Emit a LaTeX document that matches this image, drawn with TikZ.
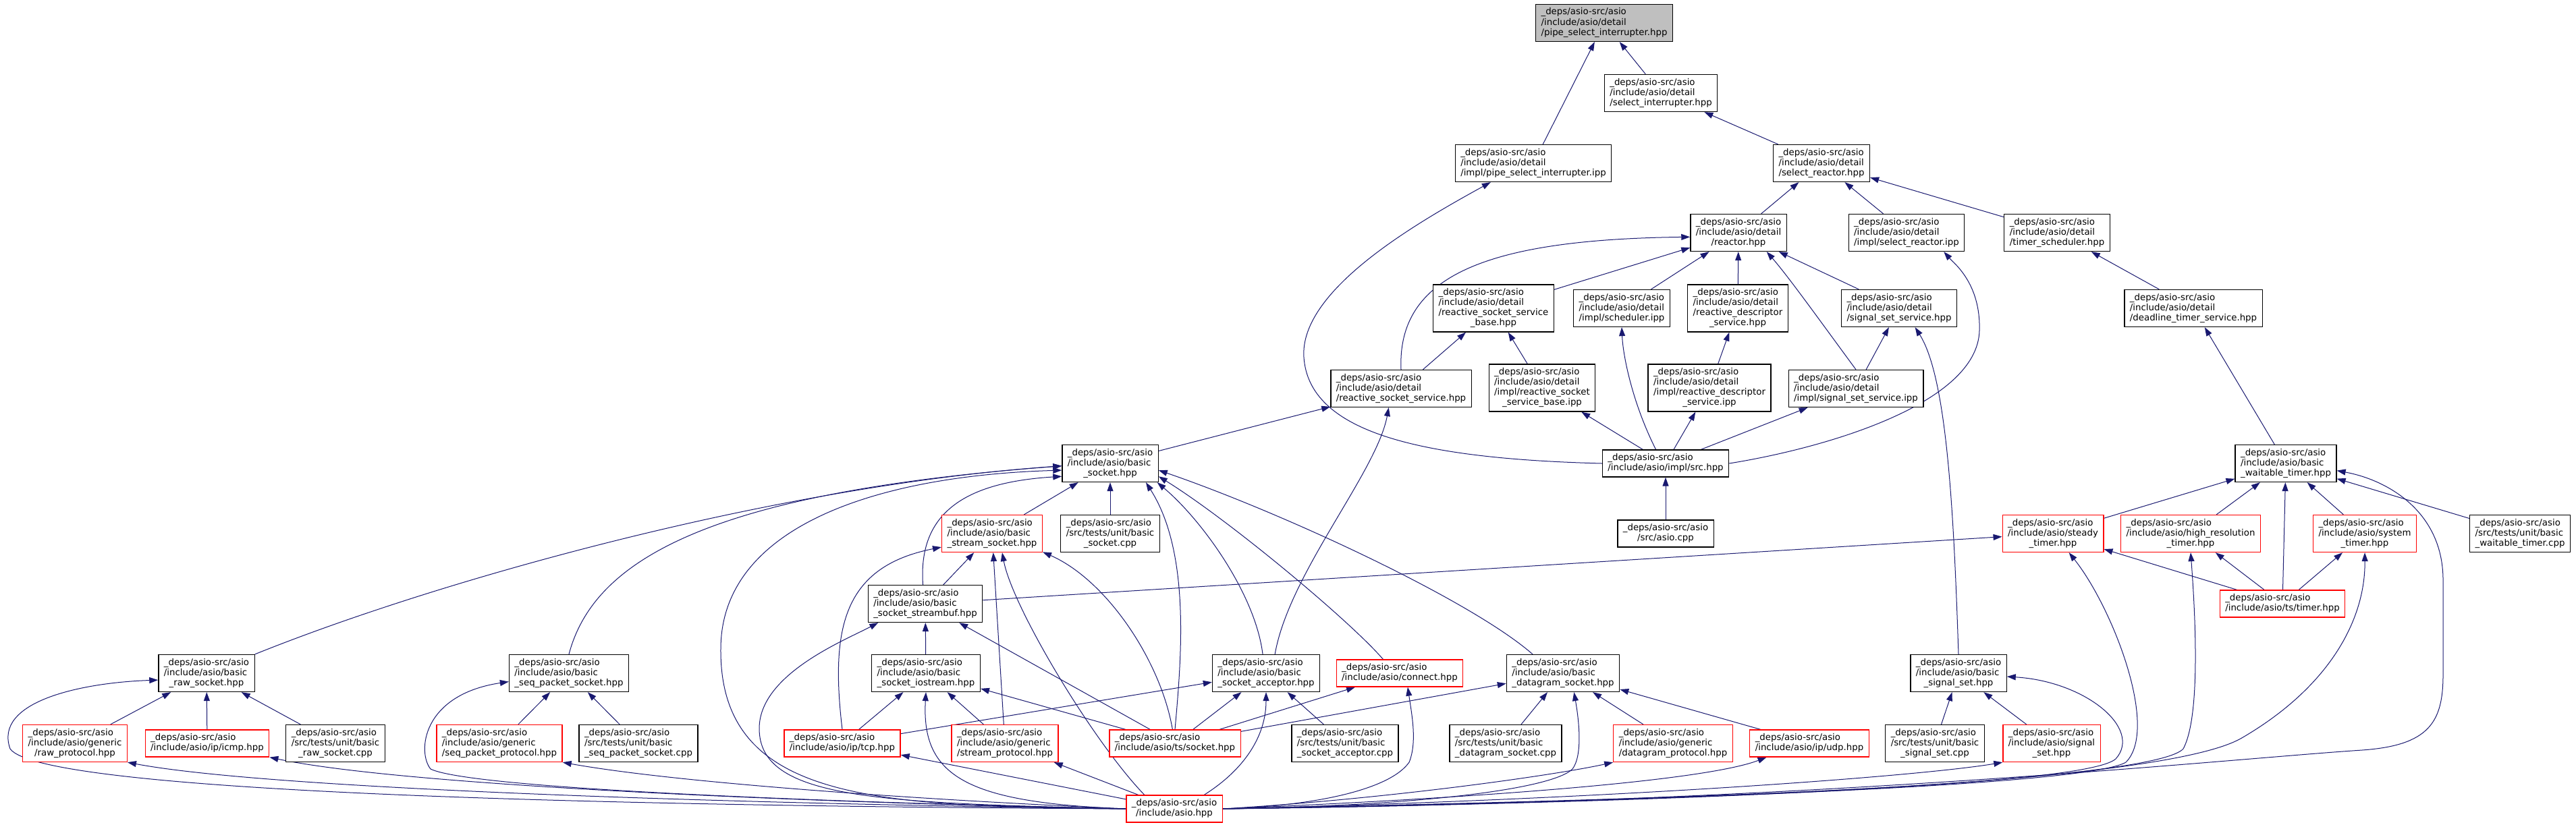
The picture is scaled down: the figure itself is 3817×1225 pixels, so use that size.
\documentclass[tikz,border=0pt]{standalone}
\usepackage{fontspec}
\setmainfont{DejaVu Sans}
\usepackage{xcolor}
\usepackage{tikz}
\usetikzlibrary{arrows.meta}

\definecolor{edgeblue}{HTML}{191970}
\definecolor{rootgray}{HTML}{BFBFBF}
\pgfdeclarelayer{bg}
\pgfsetlayers{bg,main}

% all lines left aligned, the last one centred
\newcommand{\flabel}[2]{\begin{tabular}{@{}l@{}}#1\\\multicolumn{1}{@{}c@{}}{#2}\end{tabular}}
\newcommand{\asiodir}{\_deps/asio-src/asio}

\begin{document}
\begin{tikzpicture}[x=0.2mm, y=-0.2mm,
    every node/.style={font=\fontsize{7.59}{8.54}\selectfont},
    filebox/.style={draw=black, line width=0.25mm, fill=white, inner xsep=1.6mm, inner ysep=1mm},
    truncbox/.style={filebox, draw=red},
    rootbox/.style={filebox, fill=rootgray},
    incl/.style={draw=edgeblue, line width=0.2mm, -{Triangle[length=2.6mm, width=1.8mm]}}]
  \useasboundingbox (0,0) rectangle (3817,1225);

  % ---------- detail headers ----------
  \node[rootbox] (pipe) at (2377,34) {\flabel{\asiodir\\/include/asio/detail}{/pipe\_select\_interrupter.hpp}};
  \node[filebox] (selint) at (2461,138) {\flabel{\asiodir\\/include/asio/detail}{/select\_interrupter.hpp}};
  \node[filebox] (pipeipp) at (2272,242) {\flabel{\asiodir\\/include/asio/detail}{/impl/pipe\_select\_interrupter.ipp}};
  \node[filebox] (selreact) at (2699,242) {\flabel{\asiodir\\/include/asio/detail}{/select\_reactor.hpp}};
  \node[filebox] (reactor) at (2576,345) {\flabel{\asiodir\\/include/asio/detail}{/reactor.hpp}};
  \node[filebox] (selreactipp) at (2825,345) {\flabel{\asiodir\\/include/asio/detail}{/impl/select\_reactor.ipp}};
  \node[filebox] (timsched) at (3048,345) {\flabel{\asiodir\\/include/asio/detail}{/timer\_scheduler.hpp}};
  \node[filebox] (rssb) at (2213,457) {\flabel{\asiodir\\/include/asio/detail\\/reactive\_socket\_service}{\_base.hpp}};
  \node[filebox] (schedipp) at (2403,457) {\flabel{\asiodir\\/include/asio/detail}{/impl/scheduler.ipp}};
  \node[filebox] (rds) at (2575,457) {\flabel{\asiodir\\/include/asio/detail\\/reactive\_descriptor}{\_service.hpp}};
  \node[filebox] (sss) at (2814,457) {\flabel{\asiodir\\/include/asio/detail}{/signal\_set\_service.hpp}};
  \node[filebox] (dts) at (3250,457) {\flabel{\asiodir\\/include/asio/detail}{/deadline\_timer\_service.hpp}};
  \node[filebox] (rss) at (2076,576) {\flabel{\asiodir\\/include/asio/detail}{/reactive\_socket\_service.hpp}};
  \node[filebox] (rssbipp) at (2285,575) {\flabel{\asiodir\\/include/asio/detail\\/impl/reactive\_socket}{\_service\_base.ipp}};
  \node[filebox] (rdsipp) at (2533,575) {\flabel{\asiodir\\/include/asio/detail\\/impl/reactive\_descriptor}{\_service.ipp}};
  \node[filebox] (sssipp) at (2750,576) {\flabel{\asiodir\\/include/asio/detail}{/impl/signal\_set\_service.ipp}};

  % ---------- basic sockets, timers ----------
  \node[filebox] (bsock) at (1645,687) {\flabel{\asiodir\\/include/asio/basic}{\_socket.hpp}};
  \node[filebox] (src) at (2468,687) {\flabel{\asiodir}{/include/asio/impl/src.hpp}};
  \node[filebox] (bwt) at (3387,687) {\flabel{\asiodir\\/include/asio/basic}{\_waitable\_timer.hpp}};
  \node[truncbox] (bstream) at (1470,791) {\flabel{\asiodir\\/include/asio/basic}{\_stream\_socket.hpp}};
  \node[filebox] (bsockcpp) at (1645,791) {\flabel{\asiodir\\/src/tests/unit/basic}{\_socket.cpp}};
  \node[filebox] (asiocpp) at (2468,791) {\flabel{\asiodir}{/src/asio.cpp}};
  \node[truncbox] (steady) at (3042,791) {\flabel{\asiodir\\/include/asio/steady}{\_timer.hpp}};
  \node[truncbox] (hires) at (3246,791) {\flabel{\asiodir\\/include/asio/high\_resolution}{\_timer.hpp}};
  \node[truncbox] (systim) at (3504,791) {\flabel{\asiodir\\/include/asio/system}{\_timer.hpp}};
  \node[filebox] (bwtcpp) at (3734,791) {\flabel{\asiodir\\/src/tests/unit/basic}{\_waitable\_timer.cpp}};
  \node[filebox] (sbuf) at (1371,895) {\flabel{\asiodir\\/include/asio/basic}{\_socket\_streambuf.hpp}};
  \node[truncbox] (tstimer) at (3382,895) {\flabel{\asiodir}{/include/asio/ts/timer.hpp}};
  \node[filebox] (rawsock) at (306,998) {\flabel{\asiodir\\/include/asio/basic}{\_raw\_socket.hpp}};
  \node[filebox] (seqsock) at (843,998) {\flabel{\asiodir\\/include/asio/basic}{\_seq\_packet\_socket.hpp}};
  \node[filebox] (iostr) at (1372,998) {\flabel{\asiodir\\/include/asio/basic}{\_socket\_iostream.hpp}};
  \node[filebox] (accept) at (1876,998) {\flabel{\asiodir\\/include/asio/basic}{\_socket\_acceptor.hpp}};
  \node[truncbox] (connect) at (2074,998) {\flabel{\asiodir}{/include/asio/connect.hpp}};
  \node[filebox] (dgram) at (2316,998) {\flabel{\asiodir\\/include/asio/basic}{\_datagram\_socket.hpp}};
  \node[filebox] (bss) at (2902,998) {\flabel{\asiodir\\/include/asio/basic}{\_signal\_set.hpp}};

  % ---------- protocols, tests ----------
  \node[truncbox] (rawproto) at (111,1102) {\flabel{\asiodir\\/include/asio/generic}{/raw\_protocol.hpp}};
  \node[truncbox] (icmp) at (307,1102) {\flabel{\asiodir}{/include/asio/ip/icmp.hpp}};
  \node[filebox] (rawcpp) at (497,1102) {\flabel{\asiodir\\/src/tests/unit/basic}{\_raw\_socket.cpp}};
  \node[truncbox] (seqproto) at (740,1102) {\flabel{\asiodir\\/include/asio/generic}{/seq\_packet\_protocol.hpp}};
  \node[filebox] (seqcpp) at (946,1102) {\flabel{\asiodir\\/src/tests/unit/basic}{\_seq\_packet\_socket.cpp}};
  \node[truncbox] (tcp) at (1248,1102) {\flabel{\asiodir}{/include/asio/ip/tcp.hpp}};
  \node[truncbox] (streamproto) at (1489,1102) {\flabel{\asiodir\\/include/asio/generic}{/stream\_protocol.hpp}};
  \node[truncbox] (tssock) at (1741,1102) {\flabel{\asiodir}{/include/asio/ts/socket.hpp}};
  \node[filebox] (acccpp) at (1993,1102) {\flabel{\asiodir\\/src/tests/unit/basic}{\_socket\_acceptor.cpp}};
  \node[filebox] (dgramcpp) at (2231,1102) {\flabel{\asiodir\\/src/tests/unit/basic}{\_datagram\_socket.cpp}};
  \node[truncbox] (dgramproto) at (2479,1102) {\flabel{\asiodir\\/include/asio/generic}{/datagram\_protocol.hpp}};
  \node[truncbox] (udp) at (2681,1102) {\flabel{\asiodir}{/include/asio/ip/udp.hpp}};
  \node[filebox] (bsscpp) at (2867,1102) {\flabel{\asiodir\\/src/tests/unit/basic}{\_signal\_set.cpp}};
  \node[truncbox] (sigset) at (3040,1102) {\flabel{\asiodir\\/include/asio/signal}{\_set.hpp}};
  \node[truncbox] (asio) at (1740,1199) {\flabel{\asiodir}{/include/asio.hpp}};

  \begin{pgfonlayer}{bg}
    % ---------- upper part ----------
    \draw[incl] (selint) -- (pipe);
    \draw[incl] (pipeipp) -- (pipe);
    \draw[incl] (selreact) -- (selint);
    \draw[incl] (reactor) -- (selreact);
    \draw[incl] (selreactipp) -- (selreact);
    \draw[incl] (timsched) -- (selreact);
    \draw[incl] (rssb) -- (reactor);
    \draw[incl] (schedipp) -- (reactor);
    \draw[incl] (rds) -- (reactor);
    \draw[incl] (sss) -- (reactor);
    \draw[incl] (rss.north) .. controls (2070,410) and (2200,355) .. (reactor.185);
    \draw[incl] (sssipp.north) .. controls (2700,480) and (2650,410) .. (reactor.326);
    \draw[incl] (dts) -- (timsched);
    \draw[incl] (rss) -- (rssb);
    \draw[incl] (rssbipp) -- (rssb);
    \draw[incl] (rdsipp) -- (rds);
    \draw[incl] (sssipp) -- (sss);
    \draw[incl] (bss.north) .. controls (2895,760) and (2885,560) .. (sss.310);
    \draw[incl] (bwt) -- (dts);
    % ---------- impl/src.hpp ----------
    \draw[incl] (src.west) .. controls (2100,680) and (1940,640) .. (1932,530)
      .. controls (1925,430) and (2100,330) .. (pipeipp.204);
    \draw[incl] (src.125) .. controls (2420,600) and (2405,530) .. (schedipp.south);
    \draw[incl] (src) -- (rssbipp);
    \draw[incl] (src) -- (rdsipp);
    \draw[incl] (src) -- (sssipp);
    \draw[incl] (src.east) .. controls (2700,665) and (2930,600) .. (2933,490)
      .. controls (2935,420) and (2895,390) .. (selreactipp.333);
    \draw[incl] (asiocpp) -- (src);
    % ---------- basic_socket ----------
    \draw[incl] (bsock) -- (rss);
    \draw[incl] (accept.65) .. controls (1910,850) and (2040,700) .. (rss.237);
    \draw[incl] (bstream) -- (bsock);
    \draw[incl] (bsockcpp) -- (bsock);
    \draw[incl] (sbuf.97) .. controls (1360,760) and (1430,715) .. (bsock.195);
    \draw[incl] (rawsock.north east) .. controls (650,860) and (1150,720) .. (bsock.183);
    \draw[incl] (seqsock.north) .. controls (880,830) and (1050,730) .. (bsock.183);
    \draw[incl] (tssock.north) .. controls (1750,980) and (1765,820) .. (bsock.332);
    \draw[incl] (accept.100) .. controls (1860,880) and (1780,770) .. (bsock.338);
    \draw[incl] (connect.140) .. controls (2000,920) and (1820,770) .. (bsock.345);
    \draw[incl] (dgram.148) .. controls (2180,890) and (1900,760) .. (bsock.352);
    % ---------- stream socket, streambuf, iostream ----------
    \draw[incl] (tcp.north) .. controls (1230,930) and (1250,840) .. (bstream.195);
    \draw[incl] (sbuf) -- (bstream);
    \draw[incl] (streamproto) -- (bstream);
    \draw[incl] (tssock.100) .. controls (1720,980) and (1640,860) .. (bstream.340);
    \draw[incl] (iostr) -- (sbuf);
    \draw[incl] (tssock) -- (sbuf);
    \draw[incl] (sbuf) -- (steady);
    \draw[incl] (tcp) -- (iostr);
    \draw[incl] (streamproto) -- (iostr);
    \draw[incl] (tssock) -- (iostr);
    % ---------- acceptor, connect, datagram ----------
    \draw[incl] (tcp) -- (accept);
    \draw[incl] (tssock) -- (accept);
    \draw[incl] (acccpp) -- (accept);
    \draw[incl] (tssock) -- (connect);
    \draw[incl] (tssock) -- (dgram);
    \draw[incl] (dgramcpp) -- (dgram);
    \draw[incl] (dgramproto) -- (dgram);
    \draw[incl] (udp) -- (dgram);
    % ---------- raw, seq packet ----------
    \draw[incl] (rawproto) -- (rawsock);
    \draw[incl] (icmp) -- (rawsock);
    \draw[incl] (rawcpp) -- (rawsock);
    \draw[incl] (seqproto) -- (seqsock);
    \draw[incl] (seqcpp) -- (seqsock);
    % ---------- timers, signals ----------
    \draw[incl] (steady) -- (bwt);
    \draw[incl] (hires) -- (bwt);
    \draw[incl] (tstimer) -- (bwt);
    \draw[incl] (systim) -- (bwt);
    \draw[incl] (bwtcpp) -- (bwt);
    \draw[incl] (tstimer) -- (steady);
    \draw[incl] (tstimer) -- (hires);
    \draw[incl] (tstimer) -- (systim);
    \draw[incl] (bsscpp) -- (bss);
    \draw[incl] (sigset) -- (bss);
    % ---------- asio.hpp, left side ----------
    \draw[incl] (asio.west) .. controls (900,1195) and (60,1175) .. (15,1110)
      .. controls (-10,1040) and (120,1012) .. (rawsock.188);
    \draw[incl] (asio.west) .. controls (1100,1192) and (400,1170) .. (rawproto.south east);
    \draw[incl] (asio.west) .. controls (1200,1190) and (600,1165) .. (icmp.south east);
    \draw[incl] (asio.west) .. controls (1250,1190) and (700,1170) .. (638,1140)
      .. controls (618,1115) and (625,1030) .. (seqsock.188);
    \draw[incl] (asio.west) .. controls (1350,1185) and (1000,1160) .. (seqproto.south east);
    \draw[incl] (asio.west) .. controls (1300,1195) and (1065,1190) .. (1068,960)
      .. controls (1070,780) and (1300,705) .. (bsock.188);
    \draw[incl] (asio.west) .. controls (1300,1190) and (1125,1185) .. (1125,1080)
      .. controls (1125,1000) and (1250,950) .. (sbuf.202);
    \draw[incl] (asio.155) .. controls (1620,1100) and (1500,900) .. (bstream.298);
    \draw[incl] (asio.west) .. controls (1430,1190) and (1365,1150) .. (iostr.south);
    \draw[incl] (asio) -- (tcp);
    \draw[incl] (asio) -- (streamproto);
    % ---------- asio.hpp, right side ----------
    \draw[incl] (asio.25) .. controls (1845,1140) and (1876,1090) .. (accept.south);
    \draw[incl] (asio.east) .. controls (1950,1195) and (2060,1170) .. (2088,1130)
      .. controls (2100,1100) and (2092,1060) .. (connect.300);
    \draw[incl] (asio.east) .. controls (2100,1195) and (2300,1170) .. (2330,1140)
      .. controls (2345,1120) and (2340,1070) .. (dgram.300);
    \draw[incl] (asio.east) .. controls (2050,1185) and (2300,1150) .. (dgramproto.south west);
    \draw[incl] (asio.east) .. controls (2150,1185) and (2520,1160) .. (udp.198);
    \draw[incl] (asio.east) .. controls (2500,1185) and (3090,1165) .. (3135,1125)
      .. controls (3175,1080) and (3090,1010) .. (bss.356);
    \draw[incl] (asio.east) .. controls (2400,1185) and (2850,1150) .. (sigset.south west);
    \draw[incl] (asio.east) .. controls (2600,1185) and (3100,1160) .. (3150,1130)
      .. controls (3200,1080) and (3130,900) .. (steady.310);
    \draw[incl] (asio.east) .. controls (2700,1185) and (3200,1150) .. (3235,1110)
      .. controls (3262,1060) and (3252,900) .. (hires.south);
    \draw[incl] (asio.east) .. controls (2800,1185) and (3230,1145) .. (3320,1095)
      .. controls (3450,1020) and (3505,920) .. (systim.south);
    \draw[incl] (asio.east) .. controls (2700,1190) and (3300,1125) .. (3500,1112)
      .. controls (3600,1105) and (3620,1070) .. (3620,1000) -- (3620,860)
      .. controls (3620,760) and (3540,712) .. (bwt.352);
  \end{pgfonlayer}
\end{tikzpicture}
\end{document}
